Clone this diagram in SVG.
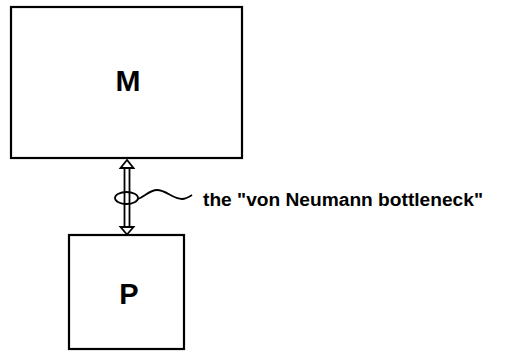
<svg xmlns="http://www.w3.org/2000/svg" width="508" height="352" viewBox="0 0 508 352">
<style>
.box{fill:#fff;stroke:#000;stroke-width:2.2}
.lbl{font-family:"Liberation Sans",Arial,sans-serif;font-weight:bold;fill:#000}
.ln{fill:none;stroke:#000;stroke-width:1.8}
.hd{fill:#fff;stroke:#000;stroke-width:1.8;stroke-linejoin:miter}
</style>
<rect width="508" height="352" fill="#fff"/>
<g id="node-M">
<rect class="box" x="11" y="7" width="231" height="151"/>
<text class="lbl" x="128" y="91" font-size="30" text-anchor="middle">M</text>
</g>
<g id="node-P">
<rect class="box" x="69" y="235" width="115" height="114"/>
<text class="lbl" x="129" y="304" font-size="29" text-anchor="middle">P</text>
</g>
<g id="connectors">
<line class="ln" x1="124.5" y1="167" x2="124.5" y2="228"/>
<line class="ln" x1="129.5" y1="167" x2="129.5" y2="228"/>
<polygon class="hd" points="127,160 120.5,168 124.5,168 129.5,168 133.5,168"/>
<polygon class="hd" points="127,234.5 120.5,227 133.5,227"/>
<ellipse class="ln" cx="126.5" cy="198" rx="11.5" ry="6"/>
<path class="ln" d="M138,199 C145,196 150,190 157,190 C166,190 173,199 182,199 C186,199 189,197 192,195"/>
</g>
<text class="lbl" x="203" y="206" font-size="18" textLength="280" lengthAdjust="spacingAndGlyphs">the "von Neumann bottleneck"</text>
</svg>
